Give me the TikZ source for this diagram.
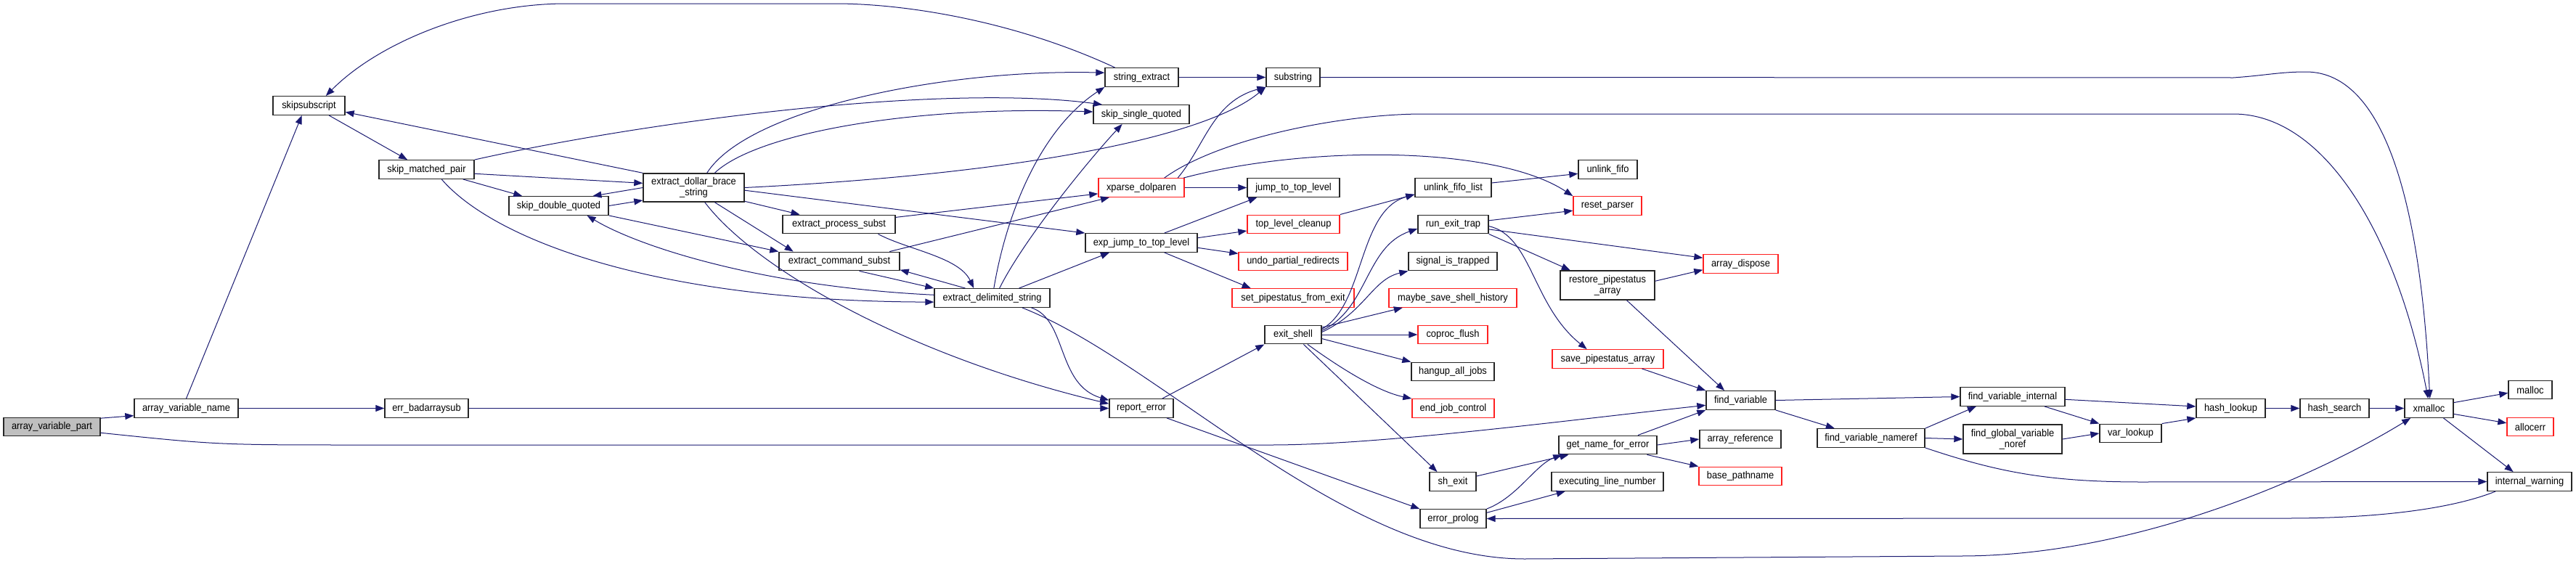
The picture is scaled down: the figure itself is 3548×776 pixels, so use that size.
\documentclass[tikz,border=0pt]{standalone}
\usepackage{fontspec}
\setmainfont[FakeStretch=0.92]{Liberation Sans}
\usetikzlibrary{arrows.meta}
\definecolor{edg}{HTML}{191970}
\definecolor{sel}{HTML}{BFBFBF}
\definecolor{bad}{HTML}{FF2020}
\tikzset{
  fn/.style={draw=black!85, line width=0.7pt, fill=white, minimum height=12.75pt, inner sep=0pt, align=center, font=\fontsize{7}{7.5}\selectfont},
  fnr/.style={fn, draw=bad},
  edge/.style={draw=edg, line width=0.5pt, -{Triangle[length=6pt, width=4.5pt]}}}
\begin{document}
\begin{tikzpicture}[x=0.5pt, y=-0.5pt]
\useasboundingbox (0,0) rectangle (3548,776);
\node[fn, fill=sel, minimum width=66.5pt] (avp) at (71.5,588) {array\_variable\_part};
\node[fn, minimum width=71.5pt] (avn) at (256.5,562.5) {array\_variable\_name};
\node[fn, minimum width=49.5pt] (ssub) at (425.5,145.5) {skipsubscript};
\node[fn, minimum width=65.5pt] (smp) at (587.5,233.5) {skip\_matched\_pair};
\node[fn, minimum width=57.5pt] (eba) at (587.5,562.5) {err\_badarraysub};
\node[fn, minimum width=68.5pt] (sdq) at (769.5,283.5) {skip\_double\_quoted};
\node[fn, minimum width=69.5pt, minimum height=19.5pt] (edbs) at (955.5,258.5) {extract\_dollar\_brace\\\_string};
\node[fn, minimum width=77.5pt] (eps) at (1155.5,309) {extract\_process\_subst};
\node[fn, minimum width=83pt] (ecs) at (1156,360) {extract\_command\_subst};
\node[fn, minimum width=79.5pt] (eds) at (1366.5,410.5) {extract\_delimited\_string};
\node[fn, minimum width=50.5pt] (se) at (1572.5,106.5) {string\_extract};
\node[fn, minimum width=66pt] (ssq) at (1572,157.5) {skip\_single\_quoted};
\node[fnr, minimum width=59pt] (xp) at (1572,258.5) {xparse\_dolparen};
\node[fn, minimum width=77pt] (ejtl) at (1572,334.5) {exp\_jump\_to\_top\_level};
\node[fn, minimum width=44pt] (re) at (1572,562.5) {report\_error};
\node[fn, minimum width=37pt] (sstr) at (1781,106.5) {substring};
\node[fn, minimum width=63.5pt] (jttl) at (1781.5,258.5) {jump\_to\_top\_level};
\node[fnr, minimum width=63.5pt] (tlc) at (1781.5,309) {top\_level\_cleanup};
\node[fnr, minimum width=75pt] (upr) at (1781,360) {undo\_partial\_redirects};
\node[fnr, minimum width=84pt] (spfe) at (1781,410.5) {set\_pipestatus\_from\_exit};
\node[fn, minimum width=39pt] (es) at (1781,461) {exit\_shell};
\node[fn, minimum width=52.5pt] (ufl) at (2001.5,258.5) {unlink\_fifo\_list};
\node[fn, minimum width=48.5pt] (ret) at (2001.5,309) {run\_exit\_trap};
\node[fn, minimum width=61pt] (sit) at (2001,360) {signal\_is\_trapped};
\node[fnr, minimum width=88pt] (mssh) at (2001,410.5) {maybe\_save\_shell\_history};
\node[fnr, minimum width=48pt] (cf) at (2001,461) {coproc\_flush};
\node[fn, minimum width=57pt] (haj) at (2001,512) {hangup\_all\_jobs};
\node[fnr, minimum width=56.5pt] (ejc) at (2001.5,562.5) {end\_job\_control};
\node[fn, minimum width=32pt] (she) at (2001,663.5) {sh\_exit};
\node[fn, minimum width=45.5pt] (ep) at (2001.5,714.5) {error\_prolog};
\node[fn, minimum width=40.5pt] (uf) at (2214.5,233.5) {unlink\_fifo};
\node[fnr, minimum width=47pt] (rp) at (2214,283.5) {reset\_parser};
\node[fn, minimum width=65pt, minimum height=20pt] (rpa) at (2214,393) {restore\_pipestatus\\\_array};
\node[fnr, minimum width=76.5pt] (spa) at (2214.5,494.5) {save\_pipestatus\_array};
\node[fn, minimum width=67.5pt] (gnfe) at (2214.5,613) {get\_name\_for\_error};
\node[fn, minimum width=77pt] (eln) at (2214,663.5) {executing\_line\_number};
\node[fnr, minimum width=51.5pt] (ad) at (2397.5,363.5) {array\_dispose};
\node[fn, minimum width=47.5pt] (fv) at (2397.5,551.5) {find\_variable};
\node[fn, minimum width=56pt] (ar) at (2397,605) {array\_reference};
\node[fnr, minimum width=57pt] (bp) at (2397,656) {base\_pathname};
\node[fn, minimum width=74pt] (fvn) at (2577,603.5) {find\_variable\_nameref};
\node[fn, minimum width=72pt] (fvi) at (2772,546.5) {find\_variable\_internal};
\node[fn, minimum width=68pt, minimum height=20pt] (fgvn) at (2772,605) {find\_global\_variable\\\_noref};
\node[fn, minimum width=42.5pt] (vl) at (2934.5,597) {var\_lookup};
\node[fn, minimum width=47.5pt] (hl) at (3072.5,562.5) {hash\_lookup};
\node[fn, minimum width=47.5pt] (hs) at (3215.5,562.5) {hash\_search};
\node[fn, minimum width=33.5pt] (xm) at (3345.5,562.5) {xmalloc};
\node[fn, minimum width=30pt] (ml) at (3485,537) {malloc};
\node[fnr, minimum width=32pt] (ac) at (3485,588) {allocerr};
\node[fn, minimum width=58pt] (iw) at (3484,663.5) {internal\_warning};
\draw[edge] (avp.10) -- (avn.188);
\draw[edge] (avp.-7) .. controls (300,613) .. (500,613) -- (1750,613) .. controls (1900,613) and (2150,580) .. (fv.188);
\draw[edge] (avn.north) -- (ssub.-126);
\draw[edge] (avn.east) -- (eba.west);
\draw[edge] (eba.east) -- (re.west);
\draw[edge] (ssub.-26) -- (smp.153);
\draw[edge] (smp.-5) -- (edbs.175);
\draw[edge] (smp.-15) -- (sdq.165);
\draw[edge] (smp.north east) .. controls (900,165) and (1300,115) .. (ssq.166);
\draw[edge] (smp.-33) .. controls (680,330) and (900,415) .. (eds.184);
\draw[edge] (sdq.east) -- (edbs.194);
\draw[edge] (edbs.west) -- (sdq.16);
\draw[edge] (edbs.north west) -- (ssub.-10);
\draw[edge] (edbs.48) .. controls (1030,150) and (1300,95) .. (se.173);
\draw[edge] (edbs.35) .. controls (1040,185) and (1250,145) .. (ssq.177);
\draw[edge] (edbs.east) .. controls (1400,240) and (1660,190) .. (sstr.south west);
\draw[edge] (edbs.-15) -- (eps.166);
\draw[edge] (edbs.-35) -- (ecs.168);
\draw[edge] (edbs.-53) .. controls (1040,370) and (1250,490) .. (re.172);
\draw[edge] (edbs.-3) -- (ejtl.north west);
\draw[edge] (sdq.south east) -- (ecs.north west);
\draw[edge] (eps.7) -- (xp.188);
\draw[edge] (eps.-14) .. controls (1250,344) and (1321,354) .. (eds.152);
\draw[edge] (ecs.11) -- (xp.197);
\draw[edge] (ecs.-26) -- (eds.north west);
\draw[edge] (eds.160) -- (ecs.-8);
\draw[edge] (eds.177) .. controls (1050,395) and (880,340) .. (sdq.-19);
\draw[edge] (eds.80) .. controls (1385,300) and (1430,180) .. (se.south west);
\draw[edge] (eds.53) .. controls (1410,330) and (1500,220) .. (ssq.207);
\draw[edge] (eds.20) -- (ejtl.197);
\draw[edge] (eds.-14) .. controls (1470,440) and (1455,530) .. (re.166);
\draw[edge] (eds.-18) .. controls (1600,500) and (1850,770) .. (2100,770) -- (2700,766) .. controls (2950,766) and (3200,650) .. (xm.208);
\draw[edge] (se.160) .. controls (1400,30) and (1250,5) .. (1150,5) -- (780,5) .. controls (650,5) and (520,60) .. (ssub.30);
\draw[edge] (se.east) -- (sstr.west);
\draw[edge] (xp.15) .. controls (1660,200) and (1670,140) .. (sstr.south west);
\draw[edge] (xp.23) .. controls (1680,190) and (1850,157) .. (1960,157) -- (3076,157) .. controls (3200,157) and (3300,320) .. (xm.95);
\draw[edge] (sstr.east) -- (3076,107) .. controls (3120,104) and (3140,99) .. (3176,99) .. controls (3290,99) and (3335,300) .. (xm.85);
\draw[edge] (xp.13) .. controls (1800,200) and (2060,200) .. (rp.north west);
\draw[edge] (xp.east) -- (jttl.west);
\draw[edge] (ejtl.23) -- (jttl.195);
\draw[edge] (ejtl.5) -- (tlc.188);
\draw[edge] (ejtl.-5) -- (upr.172);
\draw[edge] (ejtl.-23) -- (spfe.167);
\draw[edge] (tlc.north east) -- (ufl.190);
\draw[edge] (re.25) -- (es.south west);
\draw[edge] (re.-21) -- (ep.north west);
\draw[edge] (es.11) .. controls (1880,420) and (1870,290) .. (ufl.190);
\draw[edge] (es.8) .. controls (1885,425) and (1880,340) .. (ret.187);
\draw[edge] (es.5) .. controls (1880,430) and (1890,385) .. (sit.south west);
\draw[edge] (es.14) -- (mssh.191);
\draw[edge] (es.east) -- (cf.west);
\draw[edge] (es.-8) -- (haj.north west);
\draw[edge] (es.-34) .. controls (1850,510) and (1900,540) .. (ejc.north west);
\draw[edge] (es.-43) -- (she.148);
\draw[edge] (ufl.7) -- (uf.188);
\draw[edge] (ret.6) -- (rp.188);
\draw[edge] (ret.-8) -- (ad.171);
\draw[edge] (ret.south east) -- (rpa.158);
\draw[edge] (ret.-3) .. controls (2110,325) and (2110,420) .. (spa.155);
\draw[edge] (rpa.5) -- (ad.189);
\draw[edge] (rpa.-38) -- (fv.149);
\draw[edge] (spa.-16) -- (fv.north west);
\draw[edge] (gnfe.18) -- (fv.south west);
\draw[edge] (gnfe.east) -- (ar.west);
\draw[edge] (gnfe.-14) -- (bp.north west);
\draw[edge] (she.13) -- (gnfe.194);
\draw[edge] (ep.north east) .. controls (2090,685) and (2115,640) .. (gnfe.192);
\draw[edge] (ep.10) -- (eln.193);
\draw[edge] (iw.196) .. controls (3380,700) and (3280,714) .. (3150,714) -- (ep.east);
\draw[edge] (fv.east) -- (fvi.west);
\draw[edge] (fv.south east) -- (fvn.165);
\draw[edge] (fvn.north east) -- (fvi.195);
\draw[edge] (fvn.east) -- (fgvn.west);
\draw[edge] (fvn.south east) .. controls (2750,650) and (2820,664) .. (2950,664) -- (iw.west);
\draw[edge] (fvi.-3) -- (hl.177);
\draw[edge] (fvi.-17) -- (vl.north west);
\draw[edge] (fgvn.east) -- (vl.west);
\draw[edge] (vl.north east) -- (hl.south west);
\draw[edge] (hl.east) -- (hs.west);
\draw[edge] (hs.east) -- (xm.west);
\draw[edge] (xm.13) -- (ml.188);
\draw[edge] (xm.-13) -- (ac.171);
\draw[edge] (xm.-34) -- (iw.149);
\end{tikzpicture}
\end{document}
